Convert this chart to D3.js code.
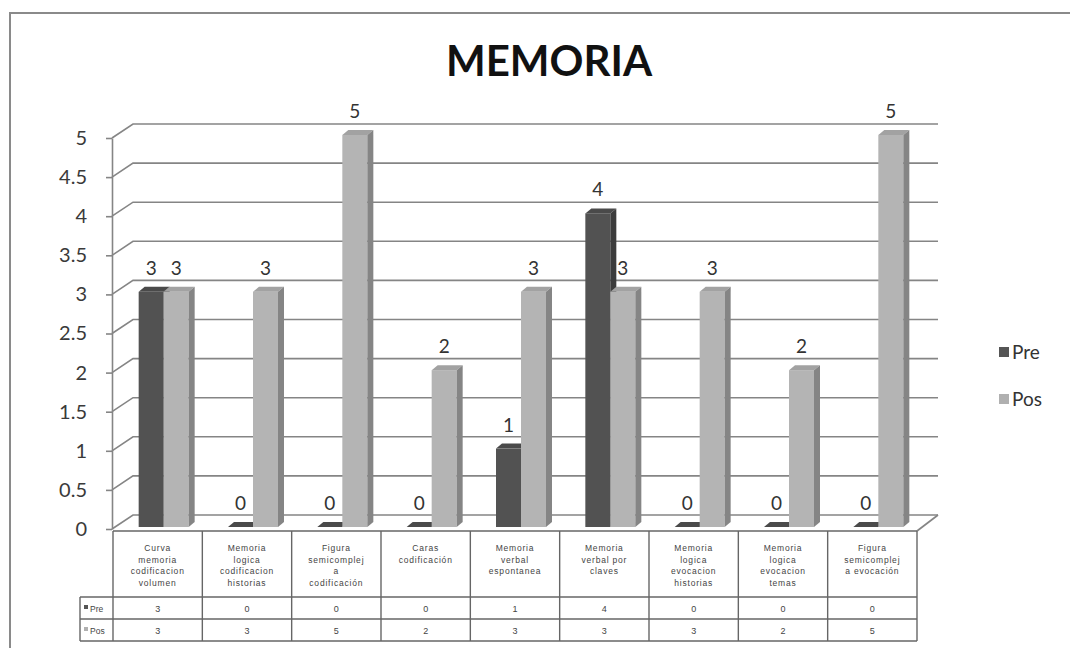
<!DOCTYPE html>
<html>
<head>
<meta charset="utf-8">
<script src="https://d3js.org/d3.v7.min.js"></script>
<style>
body {margin:0; background:#fff;}
text {font-family: Lato, "Open Sans", sans-serif;}
</style>
</head>
<body>
<svg width="1070" height="648"></svg>
<script>
// data
const categories = [
  ["Curva", "memoria", "codificacion", "volumen"],
  ["Memoria", "logica", "codificacion", "historias"],
  ["Figura", "semicomplej", "a", "codificación"],
  ["Caras", "codificación"],
  ["Memoria", "verbal", "espontanea"],
  ["Memoria", "verbal por", "claves"],
  ["Memoria", "logica", "evocacion", "historias"],
  ["Memoria", "logica", "evocacion", "temas"],
  ["Figura", "semicomplej", "a evocación"]
];
const series = ["Pre", "Pos"];
const pre = [3, 0, 0, 0, 1, 4, 0, 0, 0];
const pos = [3, 3, 5, 2, 3, 3, 3, 2, 5];
const yTicks = [0, 0.5, 1, 1.5, 2, 2.5, 3, 3.5, 4, 4.5, 5];

const colors = {
  Pre: {front: "#525252", side: "#3c3c3c", top: "#4a4a4a", key: "#555"},
  Pos: {front: "#b4b4b4", side: "#858585", top: "#a2a2a2", key: "#b0b0b0"}
};

const svg = d3.select("svg");

// outer chart border
svg.append("path").attr("d", "M10,648 L10,13 L1070,13")
  .attr("fill", "none").attr("stroke", "#8a8a8a").attr("stroke-width", 2);

svg.append("text").attr("x", 549).attr("y", 76).attr("text-anchor", "middle")
  .style("font-size", "42px").style("font-weight", "bold").attr("fill", "#111")
  .text("MEMORIA");

const left = 113, right = 917, depthX = 21, depthY = 14;
const idx = d3.range(categories.length);
const x = d3.scaleBand().domain(idx).range([left, right]);
const yA = d3.scaleLinear().domain([0, 5]).range([529, 138]);
const yB = d3.scaleLinear().domain([0, 5]).range([527, 135]);
const xs = d3.scaleBand().domain(series).range([0, 50]);

// back wall gridlines
svg.append("g").selectAll("path").data(yTicks).join("path")
  .attr("d", d => `M112,${yA(d)} L${112 + depthX},${yA(d) - depthY} L938,${yA(d) - depthY}`)
  .attr("fill", "none").attr("stroke", "#858585").attr("stroke-width", 1.6);

// floor right edge
svg.append("path").attr("d", `M${right},531 L938,${yA(0) - depthY}`)
  .attr("fill", "none").attr("stroke", "#858585").attr("stroke-width", 1.6);

// y axis
const ax = svg.append("g").attr("transform", "translate(112,0)")
  .call(d3.axisLeft(yA).tickValues(yTicks).tickSize(6).tickPadding(19).tickSizeOuter(0)
    .tickFormat(d => d));
ax.select(".domain").attr("stroke", "#858585").attr("stroke-width", 1.6);
ax.selectAll(".tick line").attr("stroke", "#858585").attr("stroke-width", 1.6);
ax.selectAll(".tick text").style("font-family", "Lato, sans-serif").style("font-size", "20px")
  .attr("fill", "#3a3a3a");

// 3d bars
const bw = 25, bdx = 6, bdy = 5;
const bars = [];
idx.forEach(i => {
  bars.push({i, s: "Pre", v: pre[i]});
  bars.push({i, s: "Pos", v: pos[i]});
});
const off = x.bandwidth() / 2 - 25 + 6;
const bx = d => x(d.i) + off + xs(d.s);

const g = svg.append("g").selectAll("g").data(bars).join("g");
g.append("rect")
  .attr("x", bx).attr("y", d => yB(d.v)).attr("width", bw)
  .attr("height", d => yB(0) - yB(d.v)).attr("fill", d => colors[d.s].front);
g.append("path")
  .attr("d", d => {
    const x0 = bx(d), yt = yB(d.v);
    return `M${x0},${yt} L${x0 + bdx},${yt - bdy} L${x0 + bw + bdx},${yt - bdy} L${x0 + bw},${yt} Z`;
  })
  .attr("fill", d => colors[d.s].top);
g.append("path")
  .attr("d", d => {
    const x0 = bx(d) + bw, yt = yB(d.v), y0 = yB(0);
    return `M${x0},${yt} L${x0 + bdx},${yt - bdy} L${x0 + bdx},${y0 - bdy} L${x0},${y0} Z`;
  })
  .attr("fill", d => colors[d.s].side);

// value labels
svg.append("g").selectAll("text").data(bars).join("text")
  .attr("x", d => bx(d) + bw / 2).attr("y", d => yB(d.v) - 17)
  .attr("text-anchor", "middle").style("font-size", "19px").attr("fill", "#333")
  .text(d => d.v);

// data table
const rowTop = 531, rowH = 597, rowPre = 619, rowPos = 641, tLeft = 80;
const tbl = svg.append("g").attr("stroke", "#666").attr("stroke-width", 1.4).attr("fill", "none");
tbl.append("path").attr("d", `M${left},${rowTop} L${right},${rowTop}`);
[rowH, rowPre, rowPos].forEach(yy => tbl.append("path").attr("d", `M${tLeft},${yy} L${right},${yy}`));
tbl.append("path").attr("d", `M${tLeft},${rowH} L${tLeft},${rowPos}`);
idx.concat([categories.length]).forEach(i => {
  const xx = i < categories.length ? x(i) : right;
  tbl.append("path").attr("d", `M${xx},${rowTop} L${xx},${rowPos}`);
});

const tFont = "'Liberation Sans', Arial, sans-serif";
const head = svg.append("g").selectAll("text").data(idx).join("text")
  .attr("text-anchor", "middle").style("font-family", tFont).style("font-size", "8.5px")
  .style("letter-spacing", "0.8px").attr("fill", "#444");
head.each(function(i) {
  d3.select(this).selectAll("tspan").data(categories[i]).join("tspan")
    .attr("x", x(i) + x.bandwidth() / 2).attr("y", (d, k) => 551 + k * 11.7).text(d => d);
});

[[pre, rowH, "Pre"], [pos, rowPre, "Pos"]].forEach(([vals, y0, name]) => {
  svg.append("g").selectAll("text").data(vals).join("text")
    .attr("x", (d, i) => x(i) + x.bandwidth() / 2).attr("y", y0 + 14.5)
    .attr("text-anchor", "middle").style("font-family", tFont).style("font-size", "9px")
    .attr("fill", "#444").text(d => d);
  svg.append("rect").attr("x", tLeft + 4).attr("y", y0 + 8).attr("width", 4).attr("height", 4)
    .attr("fill", colors[name].key);
  svg.append("text").attr("x", tLeft + 10).attr("y", y0 + 14.5)
    .style("font-family", tFont).style("font-size", "8.5px").attr("fill", "#444").text(name);
});

// legend
const leg = svg.append("g").selectAll("g").data(series).join("g")
  .attr("transform", (d, i) => `translate(999,${352 + i * 47})`);
leg.append("rect").attr("x", 0).attr("y", -5).attr("width", 10).attr("height", 10)
  .attr("fill", d => colors[d].key);
leg.append("text").attr("x", 13).attr("y", 7).style("font-size", "19px").attr("fill", "#333")
  .text(d => d);
</script>
</body>
</html>
